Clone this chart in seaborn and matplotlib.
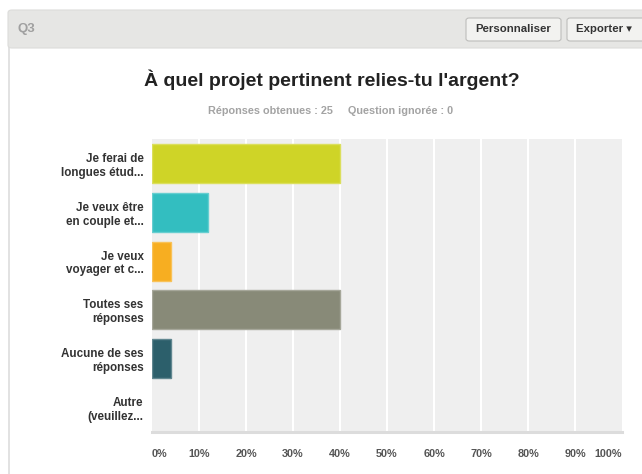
import numpy as np
import pandas as pd
import matplotlib
matplotlib.use("Agg")
import matplotlib.pyplot as plt
import matplotlib.colors as mcolors
from matplotlib.patches import FancyBboxPatch, Rectangle
import seaborn as sns

# données du graphique
categories = [
    "Je ferai de\nlongues étud...",
    "Je veux être\nen couple et...",
    "Je veux\nvoyager et c...",
    "Toutes ses\nréponses",
    "Aucune de ses\nréponses",
    "Autre\n(veuillez...",
]
pourcentages = [40, 12, 4, 40, 4, 0]
couleurs = ["#cfd427", "#33bec0", "#f7ae21", "#888a78", "#2c5f6b", "#8f5f8a"]
ticks = [0, 10, 20, 30, 40, 50, 60, 70, 80, 90, 100]
tick_labels = [f"{t}%" for t in ticks]

titre = "À quel projet pertinent relies-tu l'argent?"
sous_titre = "Réponses obtenues : 25     Question ignorée : 0"

df = pd.DataFrame({"reponse": categories, "pct": pourcentages})

sns.set_theme(style="white")
plt.rcParams["font.family"] = ["Liberation Sans", "DejaVu Sans"]

W, H = 642, 474
fig = plt.figure(figsize=(W / 100, H / 100), dpi=100)
fig.patch.set_facecolor("white")

# cadre du panneau (bande grise + bordure gauche)
fig.patches.append(Rectangle((8 / W, 0), 1.5 / W, (H - 40) / H, transform=fig.transFigure,
                             facecolor="#e2e2e2", edgecolor="none"))
fig.patches.append(FancyBboxPatch((8 / W, (H - 48) / H), (W - 8) / W + 0.02, 38 / H,
                                  boxstyle="round,pad=0,rounding_size=0.006",
                                  transform=fig.transFigure, facecolor="#e6e6e4",
                                  edgecolor="#dcdcda", linewidth=0.8))
fig.text(18 / W, 1 - 29 / H, "Q3", fontsize=9.5, color="#a0a0a0", fontweight="bold",
         va="center", ha="left")

# boutons
for x0, x1, label in [(466, 561, "Personnaliser"), (567, 660, "Exporter ▾")]:
    fig.patches.append(FancyBboxPatch((x0 / W, 1 - 41 / H), (x1 - x0) / W, 23 / H,
                                      boxstyle="round,pad=0,rounding_size=0.005",
                                      transform=fig.transFigure, facecolor="#f2f2f0",
                                      edgecolor="#bdbdbb", linewidth=0.8))
    fig.text((x0 + 9) / W, 1 - 29.5 / H, label, fontsize=8.2, color="#333333",
             fontweight="bold", va="center", ha="left",
             family=["Liberation Sans", "DejaVu Sans"])

fig.text(332 / W, 1 - 80 / H, titre, fontsize=14, fontweight="bold", color="#222222",
         ha="center", va="center")
fig.text(331 / W, 1 - 111 / H, sous_titre, fontsize=7.8, fontweight="bold", color="#a3a3a3",
         ha="center", va="center")

ax = fig.add_axes([152 / W, (H - 432) / H, 470 / W, 293 / H])
ax.set_facecolor("#efefef")

bords = [mcolors.to_hex(0.75 * np.array(mcolors.to_rgb(c)) + 0.25) for c in couleurs]
sns.barplot(data=df, y="reponse", x="pct", hue="reponse", palette=couleurs,
            orient="h", width=0.8, legend=False, ax=ax, saturation=1,
            linewidth=1, edgecolor="none")
for patch, ec, v in zip(ax.patches, bords, pourcentages):
    patch.set_edgecolor(ec)
    if v == 0:
        patch.set_linewidth(0)

ax.set_xlim(0, 100)
ax.set_ylim(5.5, -0.5)
for t in ticks[1:-1]:
    ax.axvline(t, color="white", linewidth=1.5, zorder=0.5)
ax.set_axisbelow(True)

for side in ["top", "right", "left"]:
    ax.spines[side].set_visible(False)
ax.spines["bottom"].set_color("#dcdcdc")
ax.spines["bottom"].set_linewidth(2.2)

ax.set_xticks(ticks)
ax.set_xticklabels(tick_labels)
ax.tick_params(axis="x", length=0, pad=12, labelsize=7.8, labelcolor="#555555")
ax.tick_params(axis="y", length=0, pad=6, labelsize=8.4, labelcolor="#333333")
for lbl in ax.get_xticklabels():
    lbl.set_fontweight("bold")
xl = ax.get_xticklabels()
xl[0].set_horizontalalignment("left")
xl[-1].set_horizontalalignment("right")
for lbl in ax.get_yticklabels():
    lbl.set_fontweight("bold")
    lbl.set_linespacing(1.2)

ax.set_xlabel("")
ax.set_ylabel("")

fig.savefig("out.png", dpi=100)
